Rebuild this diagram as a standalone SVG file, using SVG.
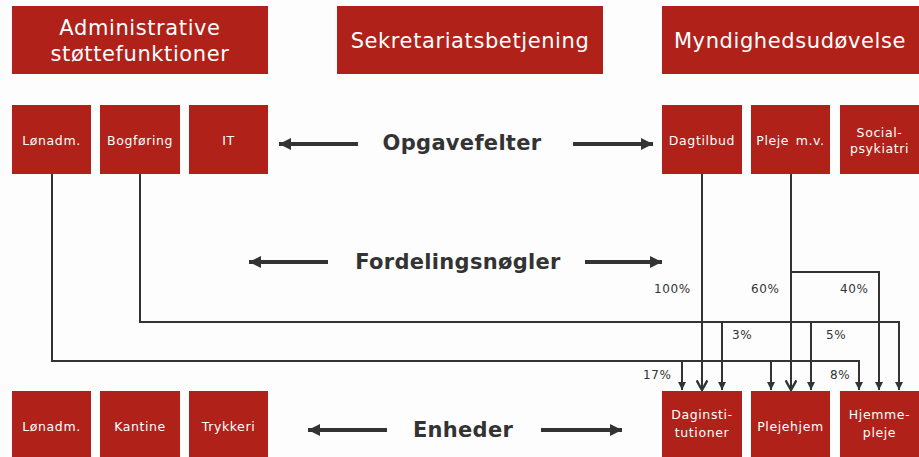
<svg xmlns="http://www.w3.org/2000/svg" width="919" height="457" viewBox="0 0 919 457">
<style>
.box{fill:#b0211a}
.big{font-family:"DejaVu Sans",Verdana,sans-serif;font-size:21px;fill:#fff;text-anchor:middle;letter-spacing:0.6px}
.sm{font-family:"DejaVu Sans",Verdana,sans-serif;font-size:12.5px;fill:#fff;text-anchor:middle;letter-spacing:0.6px;word-spacing:2px}
.lbl{font-family:"DejaVu Sans",Verdana,sans-serif;font-size:21px;font-weight:bold;fill:#333;text-anchor:middle;letter-spacing:0.3px}
.pct{font-family:"DejaVu Sans",Verdana,sans-serif;font-size:12px;fill:#333;letter-spacing:0.6px}
.ln{fill:none;stroke:#333;stroke-width:2}
.ba{fill:none;stroke:#333;stroke-width:4}
</style>
<defs>
<marker id="tri" viewBox="0 0 10 10" refX="10" refY="5" markerWidth="8" markerHeight="8" markerUnits="userSpaceOnUse" orient="auto"><path d="M0,0 L10,5 L0,10 Z" fill="#333"/></marker>
<marker id="vee" viewBox="0 0 10 10" refX="9" refY="5" markerWidth="12" markerHeight="12" markerUnits="userSpaceOnUse" orient="auto"><path d="M1,0.5 L9,5 L1,9.5" fill="none" stroke="#333" stroke-width="2"/></marker>
<marker id="big" viewBox="0 0 10 10" refX="10" refY="5" markerWidth="12" markerHeight="12" markerUnits="userSpaceOnUse" orient="auto"><path d="M0,0 L10,5 L0,10 Z" fill="#333"/></marker>
</defs>
<rect width="919" height="457" fill="#fdfdfd"/>
<g id="admin"><rect class="box" x="12" y="6" width="256" height="68"/><text class="big" x="140" y="35">Administrative</text><text class="big" x="140" y="61">støttefunktioner</text></g>
<g id="sekretariat"><rect class="box" x="337" y="6" width="266" height="68"/><text class="big" x="470" y="48">Sekretariatsbetjening</text></g>
<g id="myndighed"><rect class="box" x="662" y="6" width="257" height="68"/><text class="big" x="790" y="48">Myndighedsudøvelse</text></g>

<g id="lonadm1"><rect class="box" x="12" y="105" width="79" height="69"/><text class="sm" x="51.5" y="145">Lønadm.</text></g>
<g id="bogforing"><rect class="box" x="100" y="105" width="80" height="69"/><text class="sm" x="140" y="145">Bogføring</text></g>
<g id="it"><rect class="box" x="189" y="105" width="79" height="69"/><text class="sm" x="228.5" y="145">IT</text></g>
<g id="dagtilbud"><rect class="box" x="662" y="105" width="80" height="69"/><text class="sm" x="702" y="145">Dagtilbud</text></g>
<g id="pleje"><rect class="box" x="751" y="105" width="79" height="69"/><text class="sm" x="790.5" y="145">Pleje m.v.</text></g>
<g id="social"><rect class="box" x="840" y="105" width="79" height="69"/><text class="sm" x="879.5" y="137">Social-</text><text class="sm" x="879.5" y="153">psykiatri</text></g>

<g id="lonadm2"><rect class="box" x="12" y="391" width="79" height="66"/><text class="sm" x="51.5" y="431">Lønadm.</text></g>
<g id="kantine"><rect class="box" x="100" y="391" width="80" height="66"/><text class="sm" x="140" y="431">Kantine</text></g>
<g id="trykkeri"><rect class="box" x="189" y="391" width="79" height="66"/><text class="sm" x="228.5" y="431">Trykkeri</text></g>
<g id="daginst"><rect class="box" x="662" y="391" width="80" height="66"/><text class="sm" x="702" y="419">Daginsti-</text><text class="sm" x="702" y="437">tutioner</text></g>
<g id="plejehjem"><rect class="box" x="751" y="391" width="79" height="66"/><text class="sm" x="790.5" y="431">Plejehjem</text></g>
<g id="hjemmepleje"><rect class="box" x="840" y="391" width="79" height="66"/><text class="sm" x="879.5" y="419">Hjemme-</text><text class="sm" x="879.5" y="437">pleje</text></g>

<g id="labels">
<text class="lbl" x="462" y="150">Opgavefelter</text>
<text class="lbl" x="458" y="269">Fordelingsnøgler</text>
<text class="lbl" x="463" y="437">Enheder</text>
<text class="pct" x="654" y="293">100%</text>
<text class="pct" x="751" y="293">60%</text>
<text class="pct" x="840" y="293">40%</text>
<text class="pct" x="732" y="339">3%</text>
<text class="pct" x="826" y="339">5%</text>
<text class="pct" x="643" y="379">17%</text>
<text class="pct" x="830" y="379">8%</text>
</g>

<g id="connectors">
<line class="ba" x1="358" y1="144" x2="279" y2="144" marker-end="url(#big)"/>
<line class="ba" x1="573" y1="144" x2="653" y2="144" marker-end="url(#big)"/>
<line class="ba" x1="328" y1="262" x2="249" y2="262" marker-end="url(#big)"/>
<line class="ba" x1="585" y1="262" x2="662" y2="262" marker-end="url(#big)"/>
<line class="ba" x1="387" y1="430" x2="308" y2="430" marker-end="url(#big)"/>
<line class="ba" x1="541" y1="430" x2="622" y2="430" marker-end="url(#big)"/>

<path class="ln" d="M702,174 V390" marker-end="url(#vee)"/>
<path class="ln" d="M791,174 V390" marker-end="url(#vee)"/>
<path class="ln" d="M791,272 H879 V390" marker-end="url(#tri)"/>
<path class="ln" d="M140,174 V322 H899 V390" marker-end="url(#tri)"/>
<path class="ln" d="M722,322 V390" marker-end="url(#tri)"/>
<path class="ln" d="M811,322 V390" marker-end="url(#tri)"/>
<path class="ln" d="M52,174 V361 H859 V390" marker-end="url(#tri)"/>
<path class="ln" d="M682,361 V390" marker-end="url(#tri)"/>
<path class="ln" d="M771,361 V390" marker-end="url(#tri)"/>
</g>
</svg>
